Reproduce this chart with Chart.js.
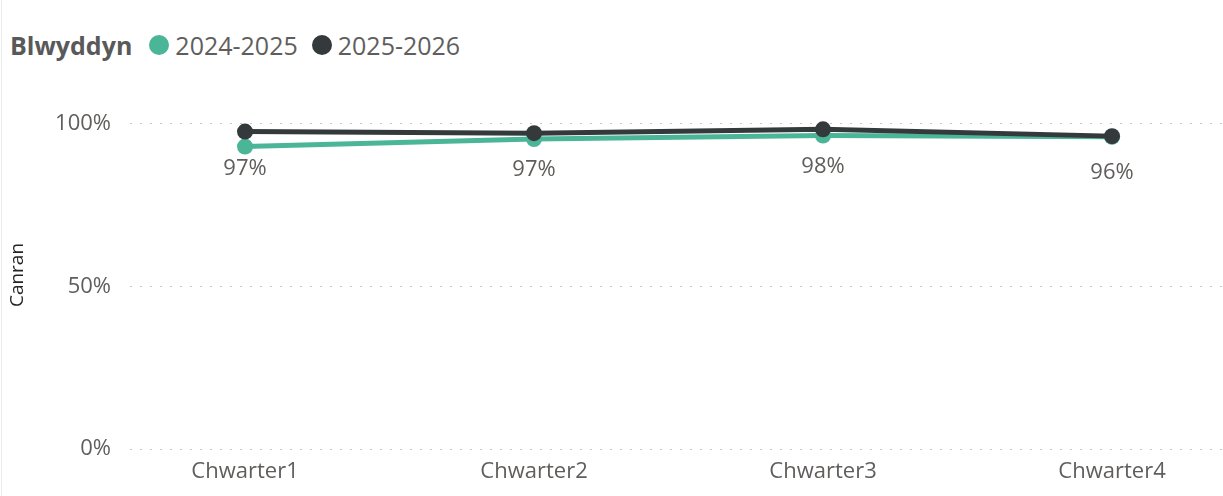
<!DOCTYPE html>
<html>
<head>
<meta charset="utf-8">
<script src="https://cdn.jsdelivr.net/npm/chart.js@4.4.1/dist/chart.umd.min.js"></script>
<style>
  html, body { margin: 0; padding: 0; background: #fff; }
  #wrap { position: relative; width: 1223px; height: 496px; overflow: hidden; }
  #edge { position: absolute; left: 1px; top: 0; width: 1px; height: 496px; background: #ececec; }
  #legend { position: absolute; left: 10px; top: 30px; height: 30px; display: flex; align-items: center;
            font-family: "Open Sans", "Noto Sans", sans-serif; font-size: 25px; color: #605E5C; white-space: nowrap; }
  #legend .ttl { font-weight: 700; color: #595959; margin-right: 17px; }
  #legend .dot { display: inline-block; width: 20px; height: 20px; border-radius: 50%; margin-right: 6px; }
  #legend .item { display: flex; align-items: center; margin-right: 14px; }
  canvas { position: absolute; left: 0; top: 0; }
</style>
</head>
<body>
<div id="wrap">
  <div id="edge"></div>
  <div id="legend"></div>
  <canvas id="c" width="1223" height="496"></canvas>
</div>
<script>
const categories = ["Chwarter1", "Chwarter2", "Chwarter3", "Chwarter4"];
const seriesNames = ["2024-2025", "2025-2026"];
const values2024 = [93.0, 95.3, 96.4, 96.0];
const values2025 = [97.6, 97.1, 98.3, 96.2];
const labels2025 = ["97%", "97%", "98%", "96%"];
const yTicks = [0, 50, 100];
const colors = ["#4BB598", "#343A3B"];

// legend
const legendEl = document.getElementById('legend');
legendEl.innerHTML = '<span class="ttl">Blwyddyn</span>' + seriesNames.map((n, i) =>
  '<span class="item"><span class="dot" style="background:' + colors[i] + '"></span>' + n + '</span>').join('');

const FONT = '"Open Sans", "Noto Sans", sans-serif';

const dataLabelPlugin = {
  id: 'dataLabels',
  afterDatasetsDraw(chart) {
    const ctx = chart.ctx;
    const meta = chart.getDatasetMeta(1);
    ctx.save();
    ctx.font = '22px ' + FONT;
    ctx.fillStyle = '#605E5C';
    ctx.textAlign = 'center';
    ctx.textBaseline = 'middle';
    meta.data.forEach((pt, i) => {
      ctx.fillText(labels2025[i], pt.x, pt.y + 37);
    });
    ctx.restore();
  }
};

new Chart(document.getElementById('c'), {
  type: 'line',
  data: {
    datasets: [
      { label: seriesNames[0], order: 2, data: values2024.map((v, i) => ({ x: i, y: v })),
        borderColor: colors[0], backgroundColor: colors[0], borderWidth: 5,
        pointRadius: 8, pointHoverRadius: 8, pointBorderWidth: 0, tension: 0 },
      { label: seriesNames[1], order: 1, data: values2025.map((v, i) => ({ x: i, y: v })),
        borderColor: colors[1], backgroundColor: colors[1], borderWidth: 5,
        pointRadius: 8, pointHoverRadius: 8, pointBorderWidth: 0, tension: 0 }
    ]
  },
  options: {
    responsive: false,
    animation: false,
    events: [],
    layout: { autoPadding: false, padding: { top: 101, right: 0, bottom: 0, left: 0 } },
    plugins: { legend: { display: false }, tooltip: { enabled: false } },
    scales: {
      x: {
        type: 'linear',
        min: -0.398, max: 3.384,
        afterBuildTicks: s => { s.ticks = categories.map((c, i) => ({ value: i })); },
        afterFit: s => { s.height = 47; s.paddingLeft = 0; s.paddingRight = 0; },
        ticks: { callback: v => categories[v], color: '#605E5C', font: { family: FONT, size: 22 }, padding: 2, maxRotation: 0, autoSkip: false },
        grid: { display: false },
        border: { display: false }
      },
      y: {
        min: 0, max: 107,
        afterBuildTicks: s => { s.ticks = yTicks.map(v => ({ value: v })); },
        afterFit: s => { s.width = 130; s.paddingTop = 0; s.paddingBottom = 0; },
        ticks: { callback: v => v + '%', color: '#605E5C', font: { family: FONT, size: 22 }, padding: 19 },
        title: { display: true, text: 'Canran', color: '#252423', font: { family: FONT, size: 19 }, padding: { top: 6, bottom: 0 } },
        grid: { color: '#C8C6C4', lineWidth: 1, drawTicks: false, tickLength: 0 },
        border: { display: false, dash: [2, 8] }
      }
    }
  },
  plugins: [dataLabelPlugin]
});
</script>
</body>
</html>
